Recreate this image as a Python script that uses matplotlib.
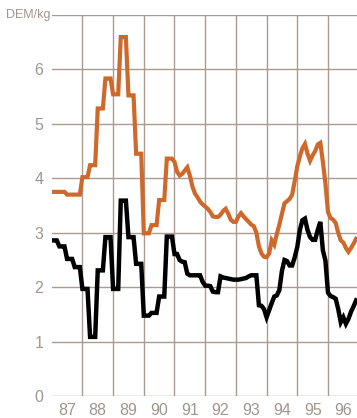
import numpy as np
import matplotlib
matplotlib.use("Agg")
import matplotlib.pyplot as plt

# quarterly prices 1987-1990 (DEM/kg)
orange_q = [3.75, 3.75, 3.70, 3.70, 4.02, 4.24, 5.28, 5.83,
            5.54, 6.59, 5.52, 4.45, 2.99, 3.14, 3.60, 4.36]
black_q = [2.86, 2.75, 2.52, 2.37, 1.97, 1.09, 2.31, 2.92,
           1.97, 3.59, 2.92, 2.43, 1.48, 1.53, 1.83, 2.93]

# monthly prices 1991-1996 (DEM/kg)
orange_m = [4.30, 4.12, 4.05, 4.08, 4.14, 4.20, 4.05, 3.85, 3.72, 3.65, 3.57, 3.52,
            3.48, 3.44, 3.38, 3.30, 3.29, 3.29, 3.33, 3.40, 3.44, 3.35, 3.24, 3.20,
            3.20, 3.30, 3.36, 3.30, 3.25, 3.20, 3.15, 3.12, 3.00, 2.75, 2.62, 2.56,
            2.55, 2.62, 2.86, 2.78, 2.98, 3.15, 3.35, 3.54, 3.58, 3.62, 3.70, 3.95,
            4.22, 4.40, 4.55, 4.63, 4.45, 4.32, 4.42, 4.50, 4.62, 4.65, 4.30, 3.90,
            3.38, 3.27, 3.24, 3.18, 3.00, 2.86, 2.82, 2.72, 2.65, 2.72, 2.80, 2.89]
black_m = [2.61, 2.61, 2.50, 2.47, 2.46, 2.25, 2.22, 2.22, 2.22, 2.22, 2.22, 2.10,
           2.03, 2.03, 2.02, 1.92, 1.91, 1.91, 2.20, 2.18, 2.17, 2.16, 2.15, 2.14,
           2.14, 2.14, 2.15, 2.16, 2.17, 2.20, 2.22, 2.22, 2.22, 1.67, 1.66, 1.60,
           1.45, 1.58, 1.71, 1.83, 1.85, 1.95, 2.30, 2.50, 2.48, 2.40, 2.40, 2.55,
           2.74, 3.05, 3.23, 3.26, 3.05, 2.92, 2.87, 2.87, 3.05, 3.20, 2.68, 2.49,
           1.90, 1.84, 1.82, 1.79, 1.60, 1.36, 1.45, 1.33, 1.42, 1.55, 1.65, 1.76]

year_labels = ["87", "88", "89", "90", "91", "92", "93", "94", "95", "96"]

orange = np.concatenate([np.repeat(orange_q, 3), orange_m])
black = np.concatenate([np.repeat(black_q, 3), black_m])
t = 1987 + np.arange(len(orange)) / 12

grid_c = "#a99b92"
text_c = "#a0968e"

fig = plt.figure(figsize=(3.57, 4.18), dpi=100)
ax = fig.add_axes([0.1448, 0.0519, 0.8552, 0.9129])

ax.plot(t, orange, color="#cf692b", lw=3.0, solid_joinstyle="miter", zorder=3)
ax.plot(t, black, color="black", lw=3.2, solid_joinstyle="miter", zorder=4)

ax.set_xlim(1987, 1996.945)
ax.set_ylim(0, 7)

for s in ax.spines.values():
    s.set_visible(False)

for v in range(8):
    ax.axhline(v, color=grid_c, lw=1.0, zorder=1)
for yr in range(1988, 1997):
    ax.axvline(yr, color=grid_c, lw=1.0, zorder=1)

ax.set_yticks(range(7))
ax.set_yticklabels([str(v) for v in range(7)])
ax.set_xticks(np.arange(1987.5, 1997, 1))
ax.set_xticklabels(year_labels)
ax.tick_params(length=0, colors=text_c, labelsize=11.5)
ax.tick_params(axis="y", pad=6)
ax.tick_params(axis="x", pad=5)
for lab in ax.get_xticklabels() + ax.get_yticklabels():
    lab.set_family("Liberation Sans")

ax.text(-0.004, 7, "DEM/kg", transform=ax.get_yaxis_transform(),
        ha="right", va="center", color=text_c, fontsize=9,
        family="Liberation Sans")

fig.savefig("out.png", dpi=100)
